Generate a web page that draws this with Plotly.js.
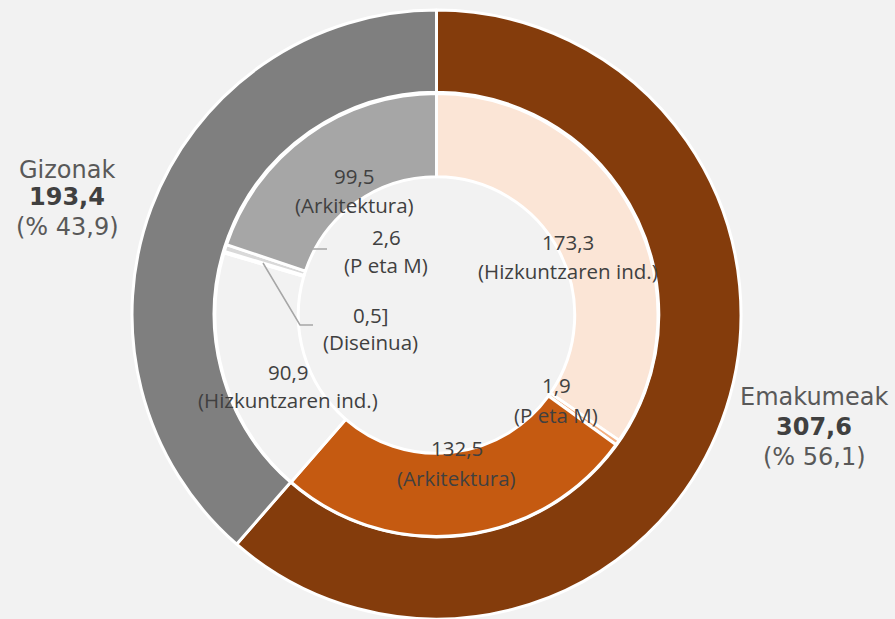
<!DOCTYPE html>
<html>
<head>
<meta charset="utf-8">
<script src="https://cdn.plot.ly/plotly-3.0.1.min.js"></script>
<style>html,body{margin:0;padding:0;background:#F2F2F2;}#chart{width:895px;height:619px;}</style>
</head>
<body>
<div id="chart"></div>
<script>
// ---- data ----
const outerLabels = ['Emakumeak', 'Gizonak'];
const outerValues = [307.6, 193.4];
const outerPctText = ['56,1', '43,9'];
const outerColors = ['#843C0C', '#7F7F7F'];

const innerCats = ['Hizkuntzaren ind.', 'P eta M', 'Arkitektura', 'Hizkuntzaren ind.', 'Diseinua', 'P eta M', 'Arkitektura'];
const innerValues = [173.3, 1.9, 132.5, 90.9, 0.5, 2.6, 99.5];
const innerValueText = ['173,3', '1,9', '132,5', '90,9', '0,5]', '2,6', '99,5'];
const innerColors = ['#FBE5D6', '#F4B183', '#C55A11', '#F2F2F2', '#BFBFBF', '#D9D9D9', '#A6A6A6'];

// ---- layout helpers (pixel -> paper) ----
const W = 895, H = 619;
const px = x => x / W;
const py = y => 1 - y / H;

// label positions (pixel centres of the text lines)
const innerLabelPos = [
  [568, 242, 271], [556, 385, 415], [457, 448, 478], [288, 372, 400],
  [370, 315, 342], [386, 237, 265], [354, 176, 205]
];
const outerLabelPos = [[814, 397, 427, 457], [67, 170, 197, 227]];

const cx = 436.5, cy = 315;
const rOuter = 305, rInner = 221.5;

const traces = [
  {
    type: 'pie', values: outerValues, labels: outerLabels, sort: false, direction: 'clockwise',
    hole: 0.73, textinfo: 'none', hoverinfo: 'label+value', showlegend: false,
    marker: {colors: outerColors, line: {color: '#FFFFFF', width: 3}},
    domain: {x: [px(cx - 330), px(cx + 330)], y: [Math.max(0, py(cy + rOuter)), py(cy - rOuter)]}
  },
  {
    type: 'pie', values: innerValues, labels: innerCats.map((c, i) => c + ' ' + i), sort: false, direction: 'clockwise',
    hole: 0.624, textinfo: 'none', hoverinfo: 'value', showlegend: false,
    marker: {colors: innerColors, line: {color: '#FFFFFF', width: 3}},
    domain: {x: [px(cx - 240), px(cx + 240)], y: [py(cy + rInner), py(cy - rInner)]}
  }
];

const annotations = [];
const innerFont = {family: 'Open Sans, sans-serif', size: 20.5, color: '#404040'};
innerValues.forEach((v, i) => {
  const p = innerLabelPos[i];
  annotations.push({xref: 'paper', yref: 'paper', x: px(p[0]), y: py(p[1]), text: innerValueText[i],
    showarrow: false, xanchor: 'center', yanchor: 'middle', font: innerFont});
  annotations.push({xref: 'paper', yref: 'paper', x: px(p[0]), y: py(p[2]), text: '(' + innerCats[i] + ')',
    showarrow: false, xanchor: 'center', yanchor: 'middle', font: innerFont});
});
outerValues.forEach((v, i) => {
  const p = outerLabelPos[i];
  const f = {family: 'DejaVu Sans, Verdana, sans-serif', size: 24, color: '#595959'};
  annotations.push({xref: 'paper', yref: 'paper', x: px(p[0]), y: py(p[1]), text: outerLabels[i],
    showarrow: false, xanchor: 'center', yanchor: 'middle', font: f});
  annotations.push({xref: 'paper', yref: 'paper', x: px(p[0]), y: py(p[2]), text: '<b>' + v.toFixed(1).replace('.', ',') + '</b>',
    showarrow: false, xanchor: 'center', yanchor: 'middle', font: Object.assign({}, f, {color: '#404040'})});
  annotations.push({xref: 'paper', yref: 'paper', x: px(p[0]), y: py(p[3]), text: '(% ' + outerPctText[i] + ')',
    showarrow: false, xanchor: 'center', yanchor: 'middle', font: f});
});

// leader lines for the small slices
const leaderPaths = [
  [[313, 249], [327, 249]],
  [[263, 263], [300, 325], [313, 325]]
];
const shapes = leaderPaths.map(pts => ({
  type: 'path', xref: 'paper', yref: 'paper',
  path: pts.map((pt, k) => (k ? 'L' : 'M') + px(pt[0]) + ',' + py(pt[1])).join(' '),
  line: {color: '#A6A6A6', width: 1.5}
}));

const layout = {
  width: W, height: H,
  margin: {l: 0, r: 0, t: 0, b: 0},
  paper_bgcolor: '#F2F2F2', plot_bgcolor: '#F2F2F2',
  showlegend: false,
  annotations: annotations,
  shapes: shapes
};

Plotly.newPlot('chart', traces, layout, {displayModeBar: false, staticPlot: true});
</script>
</body>
</html>
